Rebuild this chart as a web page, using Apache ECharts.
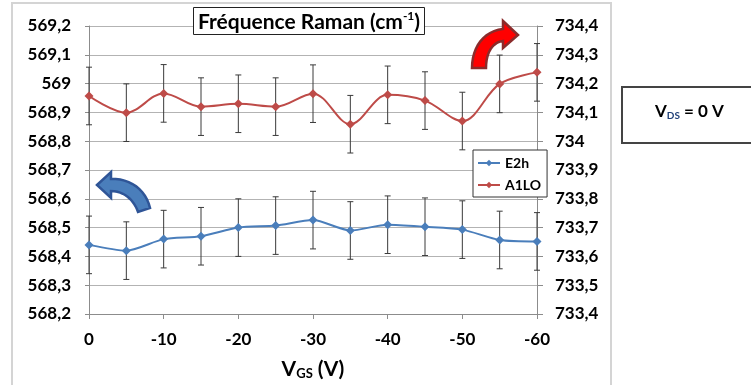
<!DOCTYPE html>
<html>
<head>
<meta charset="utf-8">
<script src="https://cdn.jsdelivr.net/npm/echarts@6/dist/echarts.min.js"></script>
<style>
html,body{margin:0;padding:0;background:#fff;}
#chart{width:751px;height:385px;}
</style>
</head>
<body>
<div id="chart"></div>
<script>
// tensions de grille (V)
const vgs = [0, -5, -10, -15, -20, -25, -30, -35, -40, -45, -50, -55, -60];
// E2h -> axe gauche, A1LO -> axe droit
const e2h = [568.44, 568.42, 568.46, 568.47, 568.50, 568.507, 568.526, 568.49, 568.51, 568.503, 568.493, 568.457, 568.452];
const a1lo = [734.157, 734.099, 734.166, 734.120, 734.130, 734.120, 734.165, 734.059, 734.161, 734.141, 734.070, 734.199, 734.239];
const e2hErr = [0.1, 0.1, 0.1, 0.1, 0.1, 0.1, 0.1, 0.1, 0.1, 0.1, 0.1, 0.1, 0.1];
const a1loErr = [0.1, 0.1, 0.1, 0.1, 0.1, 0.1, 0.1, 0.1, 0.1, 0.1, 0.1, 0.1, 0.1];

const FONT = 'Lato';
const fmt = v => String(+(+v).toFixed(1)).replace('.', ',');

function pts(vals){
    return vgs.map((x, i) => [x, vals[i]]);
}
function errPts(vals, errs){
    return vgs.map((x, i) => [x, vals[i], errs[i]]);
}
// barres d'erreur dessinees avec les axes
function errorBar(params, api){
    let x = api.value(0), y = api.value(1), e = api.value(2);
    let top = api.coord([x, y + e]);
    let bot = api.coord([x, y - e]);
    let w = 3;
    let style = { stroke: '#3a3a3a', lineWidth: 1 };
    return {
        type: 'group',
        children: [
            { type: 'line', shape: { x1: top[0], y1: top[1], x2: bot[0], y2: bot[1] }, style: style },
            { type: 'line', shape: { x1: top[0] - w, y1: top[1], x2: top[0] + w, y2: top[1] }, style: style },
            { type: 'line', shape: { x1: bot[0] - w, y1: bot[1], x2: bot[0] + w, y2: bot[1] }, style: style }
        ]
    };
}
// courbe de bezier -> points (pour les fleches decoratives)
function bez(p0, p1, p2, p3, n){
    let out = [];
    for(let k = 0; k <= n; k++){
        let t = k / n, u = 1 - t;
        out.push([
            u*u*u*p0[0] + 3*u*u*t*p1[0] + 3*u*t*t*p2[0] + t*t*t*p3[0],
            u*u*u*p0[1] + 3*u*u*t*p1[1] + 3*u*t*t*p2[1] + t*t*t*p3[1]
        ]);
    }
    return out;
}
const redArrow = [].concat(
    bez([472, 68], [472, 47], [484, 31], [503, 29], 12),
    [[503, 21], [518, 35], [503, 48], [503, 41]],
    bez([503, 41], [493, 42], [486, 52], [486, 68], 12)
);
const blueArrow = [].concat(
    [[97, 185], [111, 172], [111, 179]],
    bez([111, 179], [130, 178], [146, 190], [150, 208], 12),
    [[138, 212]],
    bez([138, 212], [134, 200], [124, 191], [111, 191], 12),
    [[111, 198]]
);

const chart = echarts.init(document.getElementById('chart'));

const axisLabelStyle = { fontFamily: FONT, fontWeight: 'bold', fontSize: 17, color: '#000' };

let option = {
    animation: false,
    title: {
        text: '{b|Fréquence Raman (cm}{s|-1}{b|)}',
        left: 193,
        top: 7,
        padding: [3, 5, 2, 5],
        borderColor: '#222',
        borderWidth: 1,
        backgroundColor: '#fff',
        textStyle: {
            rich: {
                b: { fontFamily: FONT, fontWeight: 'bold', fontSize: 21, color: '#000', lineHeight: 25 },
                s: { fontFamily: FONT, fontWeight: 'bold', fontSize: 12, color: '#000', verticalAlign: 'top', lineHeight: 25 }
            }
        }
    },
    legend: {
        orient: 'vertical',
        left: 473,
        top: 150,
        padding: [6, 6, 5, 4],
        itemGap: 8,
        itemWidth: 22,
        itemHeight: 8,
        borderColor: '#333',
        borderWidth: 1,
        backgroundColor: '#fff',
        data: ['E2h', 'A1LO'],
        textStyle: { fontFamily: FONT, fontWeight: 'bold', fontSize: 14, color: '#000' }
    },
    grid: { left: 89, right: 214, top: 26, bottom: 66 },
    xAxis: {
        type: 'value',
        min: -60,
        max: 0,
        interval: 10,
        inverse: true,
        name: '{v|V}{g|GS}{v| (V)}',
        nameLocation: 'middle',
        nameGap: 44,
        nameTextStyle: {
            rich: {
                v: { fontFamily: FONT, fontWeight: 'bold', fontSize: 21, color: '#000' },
                g: { fontFamily: FONT, fontWeight: 'bold', fontSize: 13, color: '#000', verticalAlign: 'bottom', padding: [9, 0, 0, 0] }
            }
        },
        axisLine: { lineStyle: { color: '#8c8c8c' } },
        axisTick: { length: 5, lineStyle: { color: '#8c8c8c' } },
        splitLine: { show: false },
        axisLabel: Object.assign({ margin: 17 }, axisLabelStyle)
    },
    yAxis: [
        {
            type: 'value',
            min: 568.2,
            max: 569.2,
            interval: 0.1,
            axisLine: { show: true, lineStyle: { color: '#8c8c8c' } },
            axisTick: { show: true, length: 4, lineStyle: { color: '#8c8c8c' } },
            splitLine: { lineStyle: { color: '#b3b3b3' } },
            axisLabel: Object.assign({ margin: 18, formatter: fmt }, axisLabelStyle)
        },
        {
            type: 'value',
            min: 733.4,
            max: 734.4,
            interval: 0.1,
            axisLine: { show: true, lineStyle: { color: '#8c8c8c' } },
            axisTick: { show: true, length: 6, lineStyle: { color: '#8c8c8c' } },
            splitLine: { show: false },
            axisLabel: Object.assign({ margin: 18, formatter: fmt }, axisLabelStyle)
        }
    ],
    series: [
        {
            type: 'custom',
            name: 'errE2h',
            yAxisIndex: 0,
            renderItem: errorBar,
            data: errPts(e2h, e2hErr),
            z: 1
        },
        {
            type: 'custom',
            name: 'errA1LO',
            yAxisIndex: 1,
            renderItem: errorBar,
            data: errPts(a1lo, a1loErr),
            z: 1
        },
        {
            name: 'E2h',
            type: 'line',
            yAxisIndex: 0,
            smooth: 0.25,
            symbol: 'diamond',
            symbolSize: 9,
            color: '#4a7ebb',
            lineStyle: { width: 2, color: '#4a7ebb' },
            itemStyle: { color: '#4a7ebb' },
            data: pts(e2h),
            z: 3
        },
        {
            name: 'A1LO',
            type: 'line',
            yAxisIndex: 1,
            smooth: 0.35,
            symbol: 'diamond',
            symbolSize: 9,
            color: '#be4b48',
            lineStyle: { width: 2, color: '#be4b48' },
            itemStyle: { color: '#be4b48' },
            data: pts(a1lo),
            z: 3
        }
    ],
    graphic: [
        // cadre du graphique
        { type: 'rect', z: -10, silent: true, shape: { x: 12, y: 3, width: 599, height: 390 }, style: { fill: 'none', stroke: '#d4d4d4', lineWidth: 2 } },
        // fleche rouge -> axe droit
        {
            type: 'polygon', z: 10,
            shape: { points: redArrow },
            style: { fill: '#ff0000', stroke: '#8b2b2b', lineWidth: 2.5 }
        },
        // fleche bleue -> axe gauche
        {
            type: 'polygon', z: 10,
            shape: { points: blueArrow },
            style: { fill: '#4a7ebb', stroke: '#2f5597', lineWidth: 2.5 }
        },
        // encadre VDS
        {
            type: 'rect', z: 10,
            shape: { x: 622, y: 87, width: 140, height: 56 },
            style: { fill: '#fff', stroke: '#444', lineWidth: 2 }
        },
        {
            type: 'text', z: 11,
            left: 655, top: 103,
            style: {
                text: '{v|V}{d|DS}{v| = 0 V}',
                rich: {
                    v: { fontFamily: FONT, fontWeight: 'bold', fontSize: 17, fill: '#000' },
                    d: { fontFamily: FONT, fontWeight: 'bold', fontSize: 10, fill: '#1f3f77', verticalAlign: 'bottom', padding: [8, 0, 0, 0] }
                }
            }
        }
    ]
};
chart.setOption(option);
</script>
</body>
</html>
